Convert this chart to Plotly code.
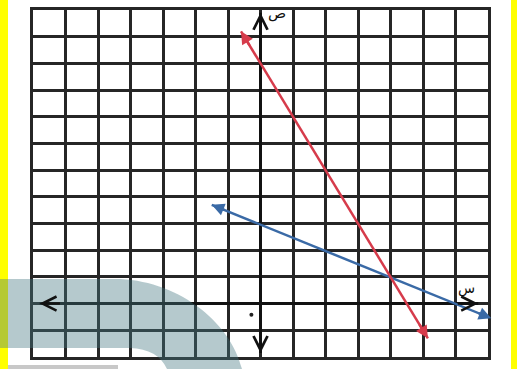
import plotly.graph_objects as go

# values (grid units)
red_x = [-0.6, 5.15]
red_y = [10.2, -1.3]
blue_x = [-1.5, 7.1]
blue_y = [3.7, -0.55]
xaxis_ends = [-6.8, 6.7]
yaxis_ends = [10.9, -1.85]
dot_x = [-0.28]
dot_y = [-0.42]

W, H = 517, 369
grid_color = "#262626"
red = "#d63b4b"
blue = "#3a6aa6"

fig = go.Figure()

# coordinate axes drawn as lines
fig.add_trace(go.Scatter(x=xaxis_ends, y=[0, 0], mode="lines",
                         line=dict(color="#111", width=3), hoverinfo="skip"))
fig.add_trace(go.Scatter(x=[0, 0], y=yaxis_ends, mode="lines",
                         line=dict(color="#111", width=3), hoverinfo="skip"))

fig.add_trace(go.Scatter(x=blue_x, y=blue_y, mode="lines",
                         line=dict(color=blue, width=2.5), hoverinfo="skip"))
fig.add_trace(go.Scatter(x=red_x, y=red_y, mode="lines",
                         line=dict(color=red, width=2.5), hoverinfo="skip"))
fig.add_trace(go.Scatter(x=dot_x, y=dot_y, mode="markers",
                         marker=dict(color="#222", size=4), hoverinfo="skip"))


def arrow(xs, ys, i, color, head, width, size=1.0):
    # arrowhead at point i, pointing away from the other end
    j = 1 - i
    fx = xs[i] + (xs[j] - xs[i]) * 0.05
    fy = ys[i] + (ys[j] - ys[i]) * 0.05
    fig.add_annotation(x=xs[i], y=ys[i], ax=fx, ay=fy, xref="x", yref="y",
                       axref="x", ayref="y", text="", showarrow=True,
                       arrowhead=head, arrowsize=size, arrowwidth=width,
                       arrowcolor=color)


for i in (0, 1):
    arrow(xaxis_ends, [0, 0], i, "#111", 5, 2.5, 1.1)
    arrow([0, 0], yaxis_ends, i, "#111", 5, 2.5, 1.1)
    arrow(red_x, red_y, i, red, 2, 2.5, 1.0)
    arrow(blue_x, blue_y, i, blue, 2, 2.5, 1.0)

fig.add_annotation(x=0.5, y=10.9, text="ص", showarrow=False,
                   font=dict(family="DejaVu Sans", size=15, color="#111"))
fig.add_annotation(x=6.35, y=0.55, text="س", showarrow=False,
                   font=dict(family="DejaVu Sans", size=14, color="#111"))


# photo decorations, given in pixels and mapped to paper coordinates
def px(x):
    return x / W


def py(y):
    return 1 - y / H


def rect(x0, y0, x1, y1, color):
    fig.add_shape(type="rect", xref="paper", yref="paper",
                  x0=px(x0), y0=py(y0), x1=px(x1), y1=py(y1),
                  fillcolor=color, line=dict(width=0), layer="above")


rect(0, 0, 8, H, "#ffff00")
rect(511, 0, W, H, "#ffff00")
rect(8, 365, 118, H, "#c8c8c8")

pts = [("M", [(0, 279)]), ("L", [(115, 279)]),
       ("C", [(175, 279), (230, 320), (242, 369)]), ("L", [(167, 369)]),
       ("Q", [(158, 349), (130, 348)]), ("L", [(0, 348)])]
path = " ".join(cmd + " " + " ".join(f"{px(a):.5f},{py(b):.5f}" for a, b in p)
                for cmd, p in pts) + " Z"
fig.add_shape(type="path", xref="paper", yref="paper", layer="above", path=path,
              fillcolor="rgba(70,120,130,0.4)", line=dict(width=0))

fig.update_layout(
    width=W, height=H,
    margin=dict(l=0, r=0, t=0, b=0, pad=0),
    paper_bgcolor="white", plot_bgcolor="white",
    showlegend=False,
    xaxis=dict(range=[-7, 7], domain=[33 / W, 488 / W], dtick=1, tick0=0,
               showgrid=True, gridcolor=grid_color, gridwidth=2.5,
               zeroline=False, showticklabels=False, ticks="",
               showline=True, mirror=True, linecolor=grid_color, linewidth=2.5),
    yaxis=dict(range=[-2, 11], domain=[1 - 357 / H, 1 - 10 / H], dtick=1, tick0=0,
               showgrid=True, gridcolor=grid_color, gridwidth=2.5,
               zeroline=False, showticklabels=False, ticks="",
               showline=True, mirror=True, linecolor=grid_color, linewidth=2.5),
)

fig.write_html("out.html", config={"displayModeBar": False},
               post_script="document.body.style.margin='0px';")
